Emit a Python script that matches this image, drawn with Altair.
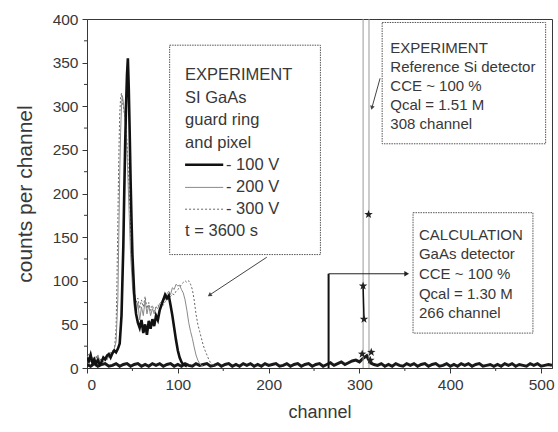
import altair as alt
import pandas as pd

# ---- spectra: SI GaAs detector (guard ring and pixel), t = 3600 s ----
ch_100v = [0, 2, 4, 6, 8, 10, 12, 14, 16, 18, 20, 22, 24, 26, 28, 30, 32, 34, 36, 38,
           40, 41, 42, 43, 44, 45, 46, 47, 48, 49, 50, 52, 54, 56, 58, 60, 62, 64, 66, 68,
           70, 72, 74, 76, 78, 80, 82, 84, 86, 88, 90, 92, 94, 96, 98, 100, 102, 104, 106, 108, 110]
counts_100v = [12, 8, 15, 6, 10, 5, 9, 4, 7, 12, 10, 14, 16, 12, 17, 20, 18, 22, 28, 60,
               140, 200, 255, 300, 335, 355, 320, 270, 215, 170, 130, 85, 62, 52, 46, 55, 40, 50, 38, 54,
               45, 56, 48, 60, 55, 66, 72, 78, 84, 80, 83, 72, 60, 46, 32, 20, 12, 7, 4, 3, 2]

ch_200v = [0, 2, 4, 6, 8, 10, 12, 14, 16, 18, 20, 22, 24, 26, 28, 30, 32, 34, 35, 36,
           37, 38, 39, 40, 42, 44, 46, 48, 50, 52, 54, 56, 58, 60, 62, 64, 66, 68, 70, 72,
           74, 76, 78, 80, 82, 84, 86, 88, 90, 92, 94, 96, 98, 100, 102, 104, 106, 108, 110, 112,
           114, 116, 118, 120, 122, 124, 126, 128]
counts_200v = [14, 6, 18, 8, 12, 5, 15, 8, 10, 6, 12, 9, 14, 18, 15, 22, 30, 80, 150, 220,
               270, 300, 312, 305, 285, 250, 190, 130, 95, 70, 62, 75, 55, 70, 60, 78, 62, 72, 60, 68,
               62, 70, 68, 74, 76, 80, 78, 85, 88, 84, 92, 90, 96, 94, 95, 90, 86, 78, 66, 52,
               42, 34, 24, 15, 9, 5, 3, 2]

ch_300v = [0, 2, 4, 6, 8, 10, 12, 14, 16, 18, 20, 22, 24, 26, 28, 30, 32, 33, 34, 35,
           36, 37, 38, 39, 40, 42, 44, 46, 48, 50, 52, 54, 56, 58, 60, 62, 64, 66, 68, 70,
           72, 74, 76, 78, 80, 82, 84, 86, 88, 90, 92, 94, 96, 98, 100, 102, 104, 106, 108, 110,
           112, 114, 116, 118, 120, 122, 124, 126, 128, 130, 132, 134, 136, 138, 140, 142]
counts_300v = [10, 16, 7, 13, 9, 14, 6, 11, 8, 13, 10, 16, 12, 15, 20, 18, 45, 100, 170, 240,
               290, 310, 315, 305, 300, 285, 260, 215, 160, 115, 88, 75, 80, 68, 78, 70, 82, 68, 75, 66,
               72, 65, 70, 72, 70, 74, 72, 76, 78, 80, 82, 85, 84, 88, 90, 92, 96, 98, 100, 98,
               100, 96, 90, 78, 62, 50, 42, 34, 26, 20, 15, 10, 6, 4, 3, 2]

# ---- low-level background over the full 512 channels (every 4th channel) ----
baseline_counts = [
    4, 2, 5, 2, 4, 5, 2, 3, 5, 2, 4, 5, 2, 4, 5, 2,
    4, 2, 5, 3, 5, 2, 4, 5, 2, 4, 2, 5, 3, 2, 5, 3,
    4, 5, 2, 3, 5, 2, 4, 5, 2, 4, 2, 5, 3, 5, 2, 4,
    2, 5, 3, 4, 5, 2, 3, 5, 2, 4, 5, 2, 4, 5, 2, 4,
    5, 2, 4, 6, 3, 5, 7, 4, 6, 8, 9, 7, 11, 14, 6, 4,
    3, 5, 2, 4, 2, 5, 3, 2, 5, 3, 5, 2, 4, 5, 2, 4,
    5, 2, 3, 5, 2, 4, 2, 5, 3, 5, 2, 4, 5, 2, 3, 4,
    2, 4, 2, 5, 3, 5, 2, 4, 3, 2, 5, 3, 5, 2, 3, 4,
    3,
]
baseline_ch = list(range(0, 4 * len(baseline_counts), 4))

# ---- reference Si detector peak (308 channel) ----
si_star_ch = [304, 305, 303, 310, 313, 312]
si_star_counts = [94, 56, 16, 176, 18, 9]
si_peak_lines = [304, 310.5]

# ---- calculation for the GaAs detector (266 channel) ----
calc_channel = 266
calc_counts = 108
calc_arrow_end = 352

X_MAX, Y_MAX = 512, 400
xscale = alt.Scale(domain=[0, X_MAX], nice=False, zero=False)
yscale = alt.Scale(domain=[0, Y_MAX], nice=False)

x_axis = alt.Axis(values=[0, 100, 200, 300, 400, 500], title="channel", grid=False,
                  tickSize=5, labelPadding=4, titlePadding=11, titleFontSize=18)
y_axis = alt.Axis(values=list(range(0, 401, 50)), title="counts per channel", grid=False,
                  tickSize=5, labelPadding=4, titlePadding=17, titleFontSize=21)

INK = "#383838"
FONT = "Liberation Sans"


def X(field="channel"):
    return alt.X(f"{field}:Q", scale=xscale, axis=x_axis)


def Y(field="counts"):
    return alt.Y(f"{field}:Q", scale=yscale, axis=y_axis)


def trace(ch, vals, **mark):
    df = pd.DataFrame({"channel": ch, "counts": vals})
    return alt.Chart(df).mark_line(clip=True, **mark).encode(x=X(), y=Y())


layers = []

# spectra
layers.append(trace(baseline_ch, baseline_counts, color="#1a1a1a", strokeWidth=3))
layers.append(trace(ch_300v, counts_300v, color="#666666", strokeWidth=1, strokeDash=[2, 2]))
layers.append(trace(ch_200v, counts_200v, color="#8a8a8a", strokeWidth=1))
layers.append(trace(ch_100v, counts_100v, color="#111111", strokeWidth=2.6))

# Si reference peak lines running off scale
si_df = pd.DataFrame({"channel": si_peak_lines, "counts": [0, 0], "top": [Y_MAX, Y_MAX]})
layers.append(alt.Chart(si_df).mark_rule(color="#9a9a9a", strokeWidth=1).encode(
    x=X(), y=Y(), y2="top:Q"))

# Si reference points
star_path = "M0,-1L0.24,-0.33L0.95,-0.31L0.38,0.12L0.59,0.81L0,0.4L-0.59,0.81L-0.38,0.12L-0.95,-0.31L-0.24,-0.33Z"
seg_df = pd.DataFrame({"channel": si_star_ch[:2], "counts": si_star_counts[:2]})
layers.append(alt.Chart(seg_df).mark_line(color="#111111", strokeWidth=1.5).encode(x=X(), y=Y()))
stars_df = pd.DataFrame({"channel": si_star_ch, "counts": si_star_counts})
layers.append(alt.Chart(stars_df).mark_point(shape=star_path, filled=True, color="#222222",
                                             size=80, opacity=1).encode(x=X(), y=Y()))

# calculation marker with arrow to its label
calc_v = pd.DataFrame({"channel": [calc_channel], "counts": [0], "top": [calc_counts]})
layers.append(alt.Chart(calc_v).mark_rule(color="#111111", strokeWidth=2).encode(
    x=X(), y=Y(), y2="top:Q"))
calc_h = pd.DataFrame({"channel": [calc_channel], "end": [calc_arrow_end], "counts": [calc_counts]})
layers.append(alt.Chart(calc_h).mark_rule(color="#222222", strokeWidth=1).encode(
    x=X(), x2="end:Q", y=Y()))
calc_head = pd.DataFrame({"channel": [calc_arrow_end], "counts": [calc_counts]})
layers.append(alt.Chart(calc_head).mark_point(shape="triangle-right", filled=True, color="#222222",
                                              size=30, opacity=1).encode(x=X(), y=Y()))

# annotation boxes
boxes = pd.DataFrame({
    "channel": [91, 325, 359],
    "right": [257, 505, 491],
    "counts": [130, 257, 40],
    "topc": [370, 396, 178],
})
layers.append(alt.Chart(boxes).mark_rect(fill="white", stroke="#555555", strokeWidth=1,
                                         strokeDash=[1.5, 1]).encode(
    x=X(), x2="right:Q", y=Y(), y2="topc:Q"))

# legend samples inside the first box
legend_rows = [(233, "#111111", 2.6, None), (207, "#8a8a8a", 1, None), (182, "#666666", 1, [2, 2])]
for yv, col, w, dash in legend_rows:
    df = pd.DataFrame({"channel": [108, 150], "counts": [yv, yv]})
    kw = {"strokeDash": dash} if dash else {}
    layers.append(alt.Chart(df).mark_line(color=col, strokeWidth=w, **kw).encode(x=X(), y=Y()))


def text_block(x, ys, lines, size):
    df = pd.DataFrame({"channel": [x] * len(lines), "counts": ys, "label": lines})
    return alt.Chart(df).mark_text(align="left", baseline="middle", font=FONT, fontSize=size,
                                   color=INK).encode(x=X(), y=Y(), text="label:N")


layers.append(text_block(108, [336, 309.5, 284, 258, 157],
                         ["EXPERIMENT", "SI GaAs", "guard ring", "and pixel", "t = 3600 s"], 16.5))
layers.append(text_block(153, [233, 207, 182], ["- 100 V", "- 200 V", "- 300 V"], 16.5))
layers.append(text_block(334, [367, 345, 323, 301.5, 279.5],
                         ["EXPERIMENT", "Reference Si detector", "CCE ~ 100 %",
                          "Qcal = 1.51 M", "308 channel"], 15))
layers.append(text_block(365.5, [152.5, 130.5, 107.5, 85, 63],
                         ["CALCULATION", "GaAs detector", "CCE ~ 100 %",
                          "Qcal = 1.30 M", "266 channel"], 15))

# pointer arrows from the experiment boxes
arrows = [((198, 127), (135.5, 84), 236), ((322.7, 332), (313.9, 299), 195)]
for (x0, y0), (x1, y1), ang in arrows:
    df = pd.DataFrame({"channel": [x0, x1], "counts": [y0, y1]})
    layers.append(alt.Chart(df).mark_line(color="#444444", strokeWidth=1).encode(x=X(), y=Y()))
    head = pd.DataFrame({"channel": [x1], "counts": [y1]})
    layers.append(alt.Chart(head).mark_point(shape="triangle", angle=ang, filled=True,
                                             color="#444444", size=22, opacity=1).encode(x=X(), y=Y()))

# minor ticks
minor_x = pd.DataFrame({"channel": [50, 150, 250, 350, 450]})
layers.append(alt.Chart(minor_x).mark_rule(color=INK, strokeWidth=1).encode(
    x=X(), y=alt.value(349), y2=alt.value(352)))
minor_y = pd.DataFrame({"counts": list(range(25, 400, 50))})
layers.append(alt.Chart(minor_y).mark_rule(color=INK, strokeWidth=1).encode(
    y=Y(), x=alt.value(0), x2=alt.value(-3)))

chart = alt.layer(*layers).properties(
    width=465, height=349, autosize="none",
    padding={"left": 87, "top": 19, "right": 6, "bottom": 64},
).configure_view(
    stroke=INK, strokeWidth=1
).configure_axis(
    domainColor=INK, tickColor=INK, labelColor=INK, titleColor=INK,
    labelFont=FONT, titleFont=FONT, labelFontSize=15.5,
    titleFontWeight="normal",
)

chart.save("out.html", embed_options={"renderer": "svg", "actions": False})
